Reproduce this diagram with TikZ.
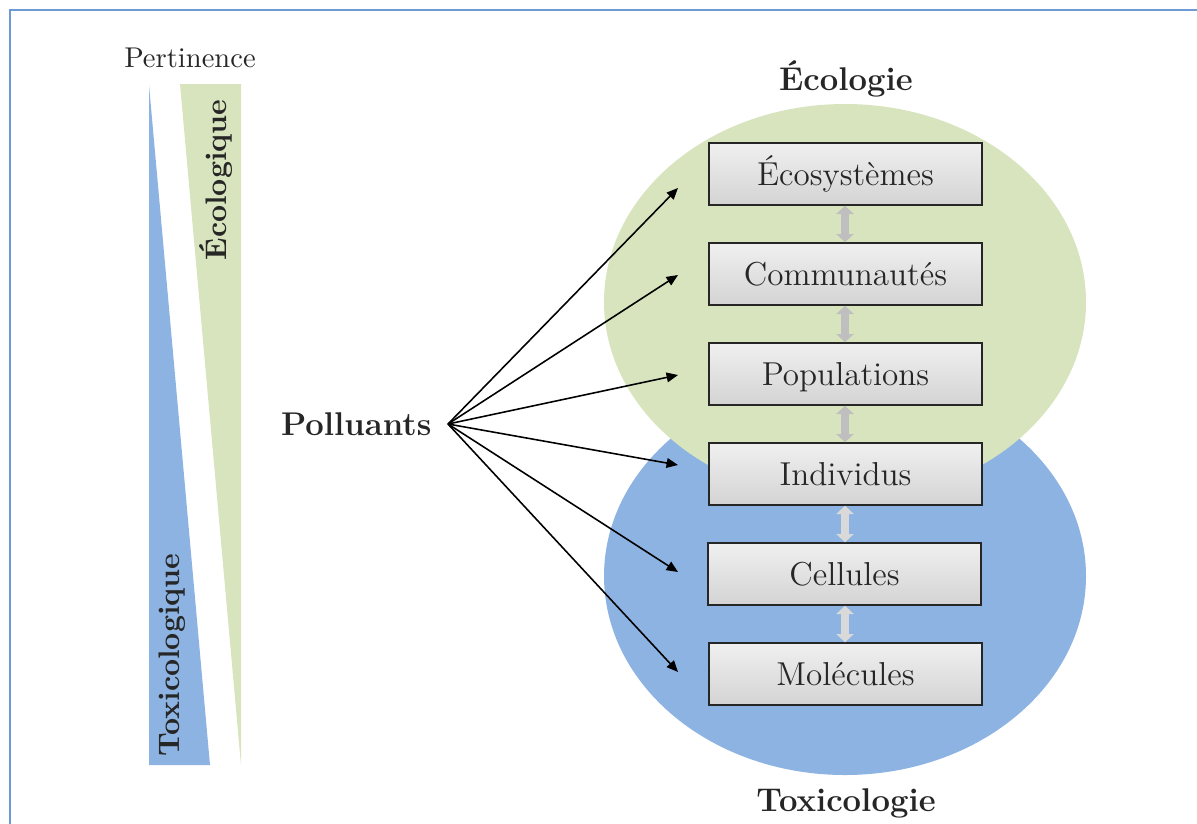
\documentclass[tikz,border=0pt]{standalone}
\usetikzlibrary{arrows.meta}
\definecolor{frameblue}{RGB}{109,155,216}
\definecolor{ecogreen}{RGB}{215,228,189}
\definecolor{toxblue}{RGB}{141,179,226}
\definecolor{txt}{RGB}{38,38,38}
\definecolor{lvlgray}{RGB}{191,191,191}
\definecolor{lvllight}{RGB}{217,217,217}
\begin{document}
\begin{tikzpicture}[x=0.35pt,y=-0.35pt,
  levelbox/.style={draw=black!85,line width=0.5pt,top color=black!6,bottom color=black!17,
    minimum width=95.5pt,minimum height=21.7pt,inner sep=0pt,text=txt,
    text height=0.85em,text depth=0.065em,
    font=\fontsize{11.6}{13}\selectfont},
  title/.style={text=txt,font=\fontsize{11.5}{13}\selectfont\bfseries,inner sep=0pt},
  sidelabel/.style={text=txt,font=\fontsize{10.4}{12}\selectfont\bfseries,inner sep=0pt,rotate=90},
  fanarrow/.style={line width=0.55pt,-{Triangle[length=4pt,width=3.4pt]}},
  lvlarrow/.style={line width=2.7pt,{Triangle[length=2.9pt,width=6pt]}-{Triangle[length=2.9pt,width=6pt]}}]
\useasboundingbox (0,0) rectangle (1197,823);
% frame
\draw[frameblue,line width=0.6pt] (10,900) -- (10,10) -- (1250,10);
% ellipses
\fill[toxblue] (845,576) ellipse [x radius=84.35pt,y radius=69.65pt];
\fill[ecogreen] (845,302) ellipse [x radius=84.35pt,y radius=69.3pt];
% side wedges
\fill[toxblue] (149,85) -- (149,765) -- (210,765) -- cycle;
\fill[ecogreen] (180,84) -- (241,84) -- (241,765) -- cycle;
\node[text=txt,font=\fontsize{10}{12}\selectfont,inner sep=0pt] (pert) at (190,58) {Pertinence};
\node[sidelabel] (ecol) at (216,180) {Écologique};
\node[sidelabel] (toxl) at (172,655) {Toxicologique};
% titles
\node[title] (ecot) at (846,79) {Écologie};
\node[title] (toxt) at (846,803) {Toxicologie};
% boxes
\node[levelbox] (b1) at (845.5,174) {Écosystèmes};
\node[levelbox] (b2) at (845.5,274) {Communautés};
\node[levelbox] (b3) at (845.5,374) {Populations};
\node[levelbox] (b4) at (845.5,474) {Individus};
\node[levelbox] (b5) at (844.5,574) {Cellules};
\node[levelbox] (b6) at (845.5,674) {Molécules};
\foreach \a/\b/\c in {b1/b2/lvlgray,b2/b3/lvlgray,b3/b4/lvlgray,b4/b5/lvllight,b5/b6/lvllight}
  \draw[lvlarrow,draw=\c,fill=\c] (\a.south -| 845,0) -- (\b.north -| 845,0);
% polluants
\node[title,inner xsep=5.6pt,anchor=east] (poll) at (448,424) {Polluants};
\coordinate (t1) at (678,188);
\coordinate (t2) at (678,275);
\coordinate (t3) at (678,375);
\coordinate (t4) at (678,465);
\coordinate (t5) at (678,572);
\coordinate (t6) at (678,672);
\foreach \t in {t1,t2,t3,t4,t5,t6}
  \draw[fanarrow] (poll.east) -- (\t);
\end{tikzpicture}
\end{document}
